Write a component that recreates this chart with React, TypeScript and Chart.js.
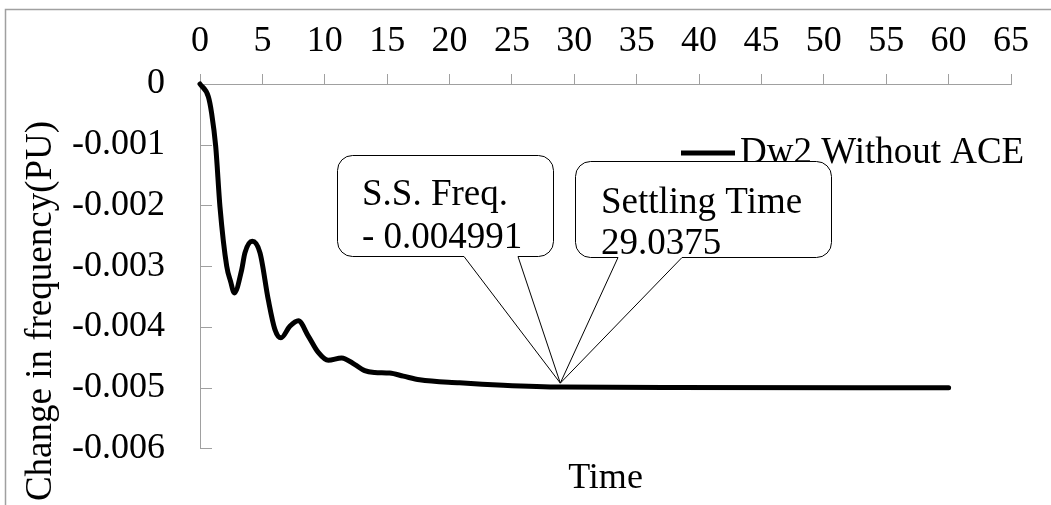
import { useEffect, useRef } from "react";
import { Chart, registerables } from "chart.js";

Chart.register(...registerables);

// Frequency deviation (PU) of area 2 after a load step, without ACE
const timeSec = [
  0, 0.67, 0.93, 1.26, 1.6, 2.14, 2.45, 2.75, 3.34, 3.6, 4.19, 4.81, 5.47, 6.0,
  6.49, 7.2, 7.88, 8.68, 9.48, 10.28, 11.35, 12.42, 13.2, 14.0, 15.2, 16.3,
  17.6, 20.8, 24.3, 29.0375, 37.7, 60,
];
const freqDev = [
  0, -0.00021, -0.00048, -0.00103, -0.00202, -0.003, -0.00325, -0.00344,
  -0.00306, -0.00278, -0.00259, -0.00278, -0.00355, -0.00404, -0.00418,
  -0.00399, -0.0039, -0.00415, -0.00442, -0.00455, -0.00451, -0.00462,
  -0.00472, -0.00475, -0.00476, -0.00481, -0.00487, -0.00492, -0.00496,
  -0.004991, -0.004998, -0.005,
];

const seriesLabel = "Dw2 Without ACE";
const xTitle = "Time";
const yTitle = "Change in frequency(PU)";

// Callout values
const ssFreq = -0.004991;
const settlingTime = 29.0375;
const ssFreqLines = ["S.S. Freq.", "- 0.004991"];
const settlingLines = ["Settling Time", "29.0375"];

const X_MIN = 0;
const X_MAX = 65;
const X_STEP = 5;
const Y_MIN = -0.006;
const Y_MAX = 0;
const Y_STEP = 0.001;

const SERIF = '"Liberation Serif", "Times New Roman", serif';
const AXIS = "#a0a0a0";

function callout(
  ctx: CanvasRenderingContext2D,
  box: { l: number; t: number; r: number; b: number },
  base1: number,
  base2: number,
  tip: { x: number; y: number },
  lines: string[],
  textX: number,
  baselines: number[]
) {
  const rad = 15;
  const { l, t, r, b } = box;
  ctx.save();
  ctx.beginPath();
  ctx.moveTo(l + rad, t);
  ctx.lineTo(r - rad, t);
  ctx.arcTo(r, t, r, t + rad, rad);
  ctx.lineTo(r, b - rad);
  ctx.arcTo(r, b, r - rad, b, rad);
  ctx.lineTo(base2, b);
  ctx.lineTo(tip.x, tip.y);
  ctx.lineTo(base1, b);
  ctx.lineTo(l + rad, b);
  ctx.arcTo(l, b, l, b - rad, rad);
  ctx.lineTo(l, t + rad);
  ctx.arcTo(l, t, l + rad, t, rad);
  ctx.closePath();
  ctx.fillStyle = "#ffffff";
  ctx.fill();
  ctx.strokeStyle = "#000000";
  ctx.lineWidth = 1;
  ctx.stroke();
  ctx.fillStyle = "#000000";
  ctx.font = `37px ${SERIF}`;
  ctx.textAlign = "left";
  ctx.textBaseline = "alphabetic";
  lines.forEach((s, i) => ctx.fillText(s, textX, baselines[i]));
  ctx.restore();
}

const overlay = {
  id: "overlay",
  beforeDraw(chart: any) {
    const ctx: CanvasRenderingContext2D = chart.ctx;
    ctx.save();
    ctx.fillStyle = "#ffffff";
    ctx.fillRect(0, 0, chart.width, chart.height);
    // outer chart frame
    ctx.strokeStyle = AXIS;
    ctx.lineWidth = 1.5;
    ctx.strokeRect(5.5, 9.5, chart.width + 50, chart.height + 50);
    ctx.restore();
  },
  afterDatasetsDraw(chart: any) {
    const ctx: CanvasRenderingContext2D = chart.ctx;
    const xs = chart.scales.x;
    const ys = chart.scales.y;
    const area = chart.chartArea;

    // inward tick marks on the value axis
    ctx.save();
    ctx.strokeStyle = AXIS;
    ctx.lineWidth = 1;
    ys.ticks.forEach((tk: any) => {
      if (Math.abs(tk.value) < 1e-12) return;
      const py = Math.round(ys.getPixelForValue(tk.value)) + 0.5;
      ctx.beginPath();
      ctx.moveTo(area.left, py);
      ctx.lineTo(area.left + 12, py);
      ctx.stroke();
    });
    ctx.restore();

    // legend
    const ds = chart.data.datasets[0];
    ctx.save();
    ctx.strokeStyle = ds.borderColor;
    ctx.lineWidth = 5;
    ctx.beginPath();
    ctx.moveTo(681, 153);
    ctx.lineTo(735, 153);
    ctx.stroke();
    ctx.fillStyle = "#000000";
    ctx.font = `37px ${SERIF}`;
    ctx.textBaseline = "alphabetic";
    ctx.fillText(ds.label, 740, 163);
    ctx.restore();

    // callouts pointing at the steady-state point
    const tip = {
      x: xs.getPixelForValue(settlingTime) - 2,
      y: ys.getPixelForValue(ssFreq) - 4,
    };
    callout(ctx, { l: 337.5, t: 155.5, r: 553.5, b: 256.5 }, 464, 518, tip, ssFreqLines, 362, [205, 248]);
    callout(ctx, { l: 575.5, t: 161.5, r: 831.5, b: 257.5 }, 618, 682, tip, settlingLines, 601, [213, 254]);

    // axis titles
    ctx.save();
    ctx.fillStyle = "#000000";
    ctx.font = `36px ${SERIF}`;
    ctx.textAlign = "center";
    ctx.textBaseline = "alphabetic";
    ctx.fillText(xTitle, (area.left + area.right) / 2, 488);
    ctx.font = `37px ${SERIF}`;
    ctx.translate(51, 311);
    ctx.rotate(-Math.PI / 2);
    ctx.fillText(yTitle, 0, 0);
    ctx.restore();
  },
};

export default function App() {
  const ref = useRef<HTMLCanvasElement>(null);

  useEffect(() => {
    const font = { family: SERIF, size: 36 };
    const chart = new Chart(ref.current as HTMLCanvasElement, {
      type: "line",
      data: {
        datasets: [
          {
            label: seriesLabel,
            data: timeSec.map((t, i) => ({ x: t, y: freqDev[i] })),
            borderColor: "#000000",
            borderWidth: 5,
            pointRadius: 0,
            cubicInterpolationMode: "monotone",
            borderCapStyle: "round",
            borderJoinStyle: "round",
            clip: false,
          } as any,
        ],
      },
      options: {
        animation: false,
        responsive: false,
        layout: { padding: { left: 0, right: 40, top: 0, bottom: 56 } },
        plugins: {
          legend: { display: false },
          tooltip: { enabled: false },
        },
        scales: {
          x: {
            type: "linear",
            position: "top",
            min: X_MIN,
            max: X_MAX,
            afterFit: (s: any) => {
              s.height = 84;
            },
            ticks: {
              stepSize: X_STEP,
              color: "#000000",
              font,
              padding: 11,
              maxRotation: 0,
              autoSkip: false,
            },
            grid: {
              drawOnChartArea: false,
              drawTicks: true,
              tickLength: 10,
              color: AXIS,
            },
            border: { color: AXIS },
          },
          y: {
            type: "linear",
            min: Y_MIN,
            max: Y_MAX,
            afterFit: (s: any) => {
              s.width = 200;
            },
            ticks: {
              stepSize: Y_STEP,
              color: "#000000",
              font,
              padding: 35,
              callback: (v: any) => {
                const r = Math.round(Number(v) * 1000) / 1000;
                return r === 0 ? "0" : String(r);
              },
            },
            grid: { drawOnChartArea: false, drawTicks: false },
            border: { color: AXIS },
          },
        },
      } as any,
      plugins: [overlay],
    });
    return () => chart.destroy();
  }, []);

  return (
    <div
      style={{
        position: "fixed",
        left: 0,
        top: 0,
        width: 1051,
        height: 505,
        background: "#ffffff",
        overflow: "hidden",
      }}
    >
      <canvas ref={ref} width={1051} height={505} style={{ display: "block" }} />
    </div>
  );
}
